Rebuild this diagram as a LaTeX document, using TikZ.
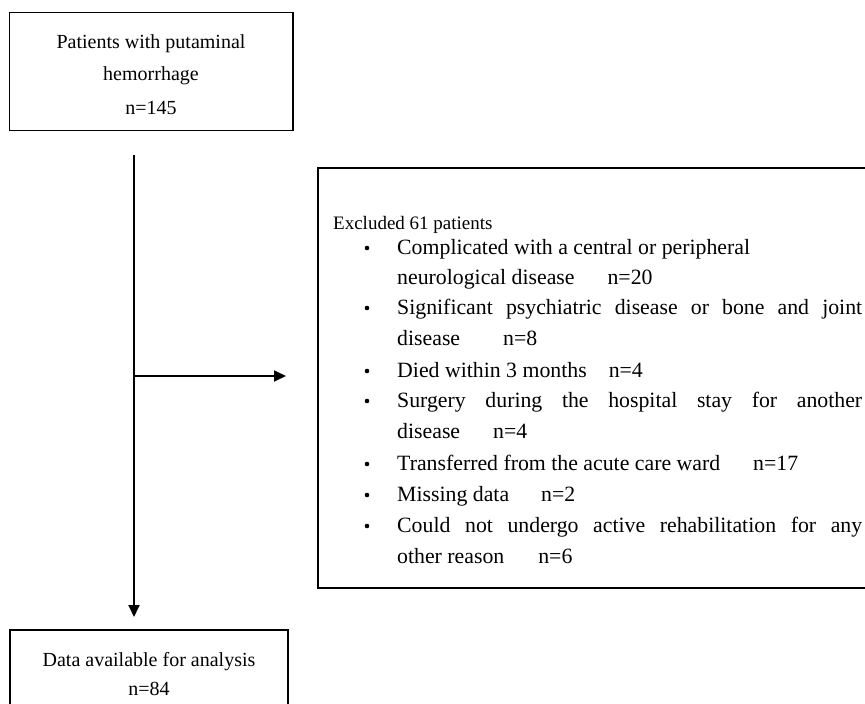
\documentclass[tikz,border=0pt]{standalone}
\usepackage{fontspec}
\setmainfont{Liberation Serif}
\usetikzlibrary{positioning,arrows.meta}

\begin{document}
\begin{tikzpicture}[x=1pt,y=-1pt,
	box/.style={draw, line width=1.8pt, inner sep=0pt},
	txt/.style={anchor=base, inner sep=0pt, font=\fontsize{20}{24}\selectfont},
	item/.style={anchor=base west, inner sep=0pt, font=\fontsize{21.8}{26}\selectfont},
	arr/.style={line width=1.8pt, -{Triangle[length=12pt,width=11pt]}}]
	\clip (0,0) rectangle (865,704);
	% boxes
	\node[box, minimum width=283.5pt, minimum height=118pt] (top) at (151.25,71.5) {};
	\node[box, minimum width=278pt, minimum height=100pt] (bottom) at (149,680) {};
	\node[box, minimum width=570pt, minimum height=420pt] (excl) at (603,378) {};
	% top and bottom texts
	\node[txt] (t1) at (151,48) {Patients with putaminal};
	\node[txt] (t2) at (151,80) {hemorrhage};
	\node[txt] (t3) at (151,114) {n=145};
	\node[txt] (b1) at (149,666) {Data available for analysis};
	\node[txt] (b2) at (149,695) {n=84};
	% excluded list
	\node[anchor=base west, inner sep=0pt, font=\fontsize{19}{22}\selectfont] (e0) at (333,229) {Excluded 61 patients};
	\node[item] (l1) at (397,254) {Complicated with a central or peripheral};
	\node[item] (l2) at (397,284) {neurological disease\hspace{33pt}n=20};
	\node[item] (l3) at (397,314) {\makebox[465pt][s]{Significant psychiatric disease or bone and joint}};
	\node[item] (l4) at (397,345) {disease\hspace{43pt}n=8};
	\node[item] (l5) at (397,377) {Died within 3 months\hspace{22pt}n=4};
	\node[item] (l6) at (397,407) {\makebox[465pt][s]{Surgery during the hospital stay for another}};
	\node[item] (l7) at (397,438) {disease\hspace{33pt}n=4};
	\node[item] (l8) at (397,470) {Transferred from the acute care ward\hspace{33pt}n=17};
	\node[item] (l9) at (397,501) {Missing data\hspace{32pt}n=2};
	\node[item] (l10) at (397,532) {\makebox[465pt][s]{Could not undergo active rehabilitation for any}};
	\node[item] (l11) at (397,563) {other reason\hspace{34pt}n=6};
	% bullets
	\fill (367,248) circle (2.3pt);
	\fill (367,308) circle (2.3pt);
	\fill (367,371) circle (2.3pt);
	\fill (367,401) circle (2.3pt);
	\fill (367,464) circle (2.3pt);
	\fill (367,495) circle (2.3pt);
	\fill (367,526) circle (2.3pt);
	% arrows
	\coordinate (a0) at (134,155);
	\coordinate (a1) at (134,617);
	\coordinate (a2) at (134,376);
	\coordinate (a3) at (286,376);
	\draw[arr] (a0) -- (a1);
	\draw[arr] (a2) -- (a3);
\end{tikzpicture}
\end{document}
